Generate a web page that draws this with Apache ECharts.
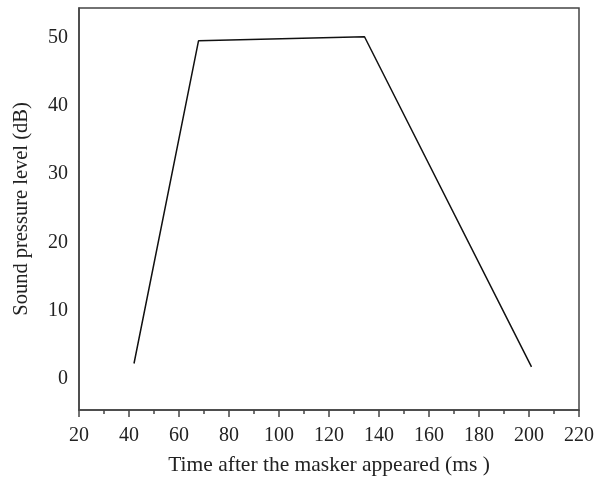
<!DOCTYPE html>
<html>

<head>
    <meta charset="utf-8">
    <script type="text/javascript" src="https://cdn.jsdelivr.net/npm/echarts@6/dist/echarts.min.js"></script>
    <title>Sound pressure level</title>
</head>

<body style="margin:0">
    <div id="container" style="width:597px;height:483px;"></div>
    <script type="text/javascript">
    // data
    var timeMs = [42, 67.8, 134.2, 201];
    var levelDb = [2.3, 49.5, 50.1, 1.8];
    var yTickValues = [0, 10, 20, 30, 40, 50];

    var myChart = echarts.init(document.getElementById('container'));

    var font = 'Liberation Serif';
    var axisColor = '#444';

    var points = timeMs.map(function (t, i) {
        return [t, levelDb[i]];
    });

    var option = {
        animation: false,
        grid: {
            left: 79,
            right: 14,
            top: 8,
            bottom: 73,
            show: true,
            borderColor: axisColor,
            borderWidth: 1.5
        },
        xAxis: {
            type: 'value',
            min: 20,
            max: 220,
            interval: 20,
            name: 'Time after the masker appeared (ms )',
            nameLocation: 'middle',
            nameGap: 44,
            nameTextStyle: { fontFamily: font, fontSize: 21.5, color: '#222' },
            axisLine: { onZero: false, lineStyle: { color: axisColor, width: 1.5 } },
            axisTick: { length: 7, lineStyle: { color: axisColor, width: 1.5 } },
            minorTick: { show: true, splitNumber: 2, length: 4, lineStyle: { color: axisColor, width: 1.5 } },
            axisLabel: { fontFamily: font, fontSize: 20, color: '#222', margin: 16 },
            splitLine: { show: false }
        },
        yAxis: {
            type: 'value',
            min: -4.5,
            max: 54.3,
            name: 'Sound pressure level (dB)',
            nameLocation: 'middle',
            nameGap: 47,
            nameTextStyle: { fontFamily: font, fontSize: 20.5, color: '#222' },
            axisLine: { show: true, onZero: false, lineStyle: { color: axisColor, width: 1.5 } },
            axisTick: { show: false },
            axisLabel: {
                fontFamily: font,
                fontSize: 20,
                color: '#222',
                margin: 11,
                customValues: yTickValues
            },
            splitLine: { show: false }
        },
        series: [{
            type: 'line',
            data: points,
            symbol: 'none',
            lineStyle: { color: '#111', width: 1.5 }
        }]
    };

    myChart.setOption(option);
    </script>
</body>

</html>
